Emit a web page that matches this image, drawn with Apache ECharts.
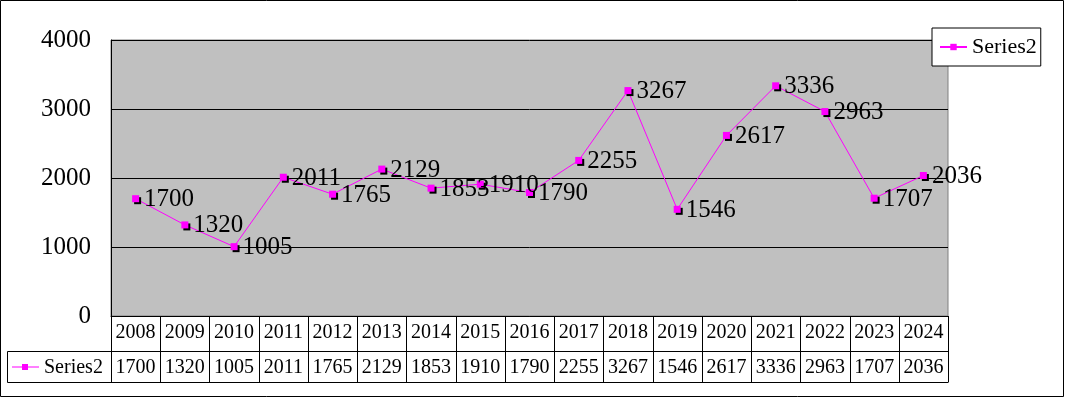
<!DOCTYPE html>
<html>
<head>
<meta charset="utf-8">
<script src="https://cdn.jsdelivr.net/npm/echarts@6/dist/echarts.min.js"></script>
<style>
  html, body { margin: 0; padding: 0; background: #fff; }
  #chart { width: 1065px; height: 398px; }
</style>
</head>
<body>
<div id="chart"></div>
<script>
// data
const years = ['2008', '2009', '2010', '2011', '2012', '2013', '2014', '2015', '2016',
  '2017', '2018', '2019', '2020', '2021', '2022', '2023', '2024']
const series2 = [1700, 1320, 1005, 2011, 1765, 2129, 1853, 1910, 1790,
  2255, 3267, 1546, 2617, 3336, 2963, 1707, 2036]
const yTicks = [0, 1000, 2000, 3000, 4000]
const seriesName = 'Series2'

const FONT = 'Liberation Serif'
const MAGENTA = '#FF00FF'

const chart = echarts.init(document.getElementById('chart'))

chart.setOption({
  backgroundColor: '#fff',
  animation: false,
  textStyle: { fontFamily: FONT },
  grid: {
    left: 111,
    right: 117,
    top: 40,
    bottom: 82,
    show: true,
    backgroundColor: '#C0C0C0',
    borderColor: '#808080',
    borderWidth: 1
  },
  legend: {
    left: 932,
    top: 28,
    data: [seriesName],
    backgroundColor: '#fff',
    borderColor: '#000',
    borderWidth: 1,
    borderRadius: 0,
    padding: [8, 4, 8, 7],
    itemWidth: 27,
    itemHeight: 8,
    itemGap: 4,
    textStyle: { fontFamily: FONT, fontSize: 22, color: '#000' }
  },
  xAxis: {
    type: 'category',
    data: years,
    boundaryGap: true,
    axisLine: { show: true, lineStyle: { color: '#000', width: 1 } },
    axisTick: { show: false },
    axisLabel: {
      interval: 0,
      margin: 7,
      fontFamily: FONT,
      fontSize: 20,
      color: '#000'
    },
    splitLine: { show: false }
  },
  yAxis: {
    type: 'value',
    min: yTicks[0],
    max: yTicks[yTicks.length - 1],
    interval: 1000,
    axisLine: { show: true, lineStyle: { color: '#000', width: 1 } },
    axisTick: { show: false },
    axisLabel: {
      margin: 20,
      fontFamily: FONT,
      fontSize: 25,
      color: '#000',
      formatter: v => String(v)
    },
    splitLine: { show: true, lineStyle: { color: '#000', width: 1 } }
  },
  series: [{
    name: seriesName,
    type: 'line',
    data: series2,
    symbol: 'rect',
    symbolSize: 7,
    lineStyle: { color: MAGENTA, width: 1 },
    itemStyle: {
      color: MAGENTA,
      shadowColor: '#000',
      shadowBlur: 0,
      shadowOffsetX: 2,
      shadowOffsetY: 2
    },
    label: {
      show: true,
      position: 'right',
      distance: 5,
      offset: [0, 1],
      fontFamily: FONT,
      fontSize: 25,
      color: '#000'
    }
  }]
})

// data table under the plot, laid out from the category axis
const drawTable = () => {
  const top = 316, mid = 351, bottom = 382, leftEdge = 7
  const c0 = chart.convertToPixel({ xAxisIndex: 0 }, 0)
  const c1 = chart.convertToPixel({ xAxisIndex: 0 }, 1)
  const bw = c1 - c0
  const elements = []
  const line = (x1, y1, x2, y2) => ({
    type: 'line',
    shape: { x1, y1, x2, y2 },
    style: { stroke: '#000', lineWidth: 1 },
    silent: true
  })
  const lastEdge = Math.round(c0 + bw * (years.length - 0.5)) + 0.5
  for (let i = 0; i <= years.length; i++) {
    const x = Math.round(c0 - bw / 2 + bw * i) + 0.5
    elements.push(line(x, top, x, bottom))
  }
  elements.push(line(leftEdge + 0.5, mid + 0.5, lastEdge, mid + 0.5))
  elements.push(line(leftEdge + 0.5, bottom + 0.5, lastEdge, bottom + 0.5))
  elements.push(line(leftEdge + 0.5, mid + 0.5, leftEdge + 0.5, bottom + 0.5))

  series2.forEach((v, i) => {
    const x = chart.convertToPixel({ xAxisIndex: 0 }, i)
    elements.push({
      type: 'text',
      x: x,
      y: (mid + bottom) / 2 + 1,
      style: {
        text: String(v),
        fontFamily: FONT,
        fontSize: 20,
        fill: '#000',
        align: 'center',
        verticalAlign: 'middle'
      },
      silent: true
    })
  })

  // legend key in the table
  const ky = (mid + bottom) / 2 + 0.5
  elements.push({
    type: 'line',
    shape: { x1: 12, y1: ky, x2: 39, y2: ky },
    style: { stroke: MAGENTA, lineWidth: 1 },
    silent: true
  })
  elements.push({
    type: 'rect',
    shape: { x: 22, y: ky - 3, width: 6, height: 6 },
    style: { fill: MAGENTA },
    silent: true
  })
  elements.push({
    type: 'text',
    x: 44,
    y: ky + 1,
    style: {
      text: seriesName,
      fontFamily: FONT,
      fontSize: 20,
      fill: '#000',
      align: 'left',
      verticalAlign: 'middle'
    },
    silent: true
  })

  // outer chart border
  elements.push({
    type: 'rect',
    shape: { x: 0.5, y: 0.5, width: 1063, height: 396 },
    style: { fill: 'none', stroke: '#000', lineWidth: 1 },
    silent: true
  })

  chart.setOption({ graphic: elements })
}

drawTable()
</script>
</body>
</html>
